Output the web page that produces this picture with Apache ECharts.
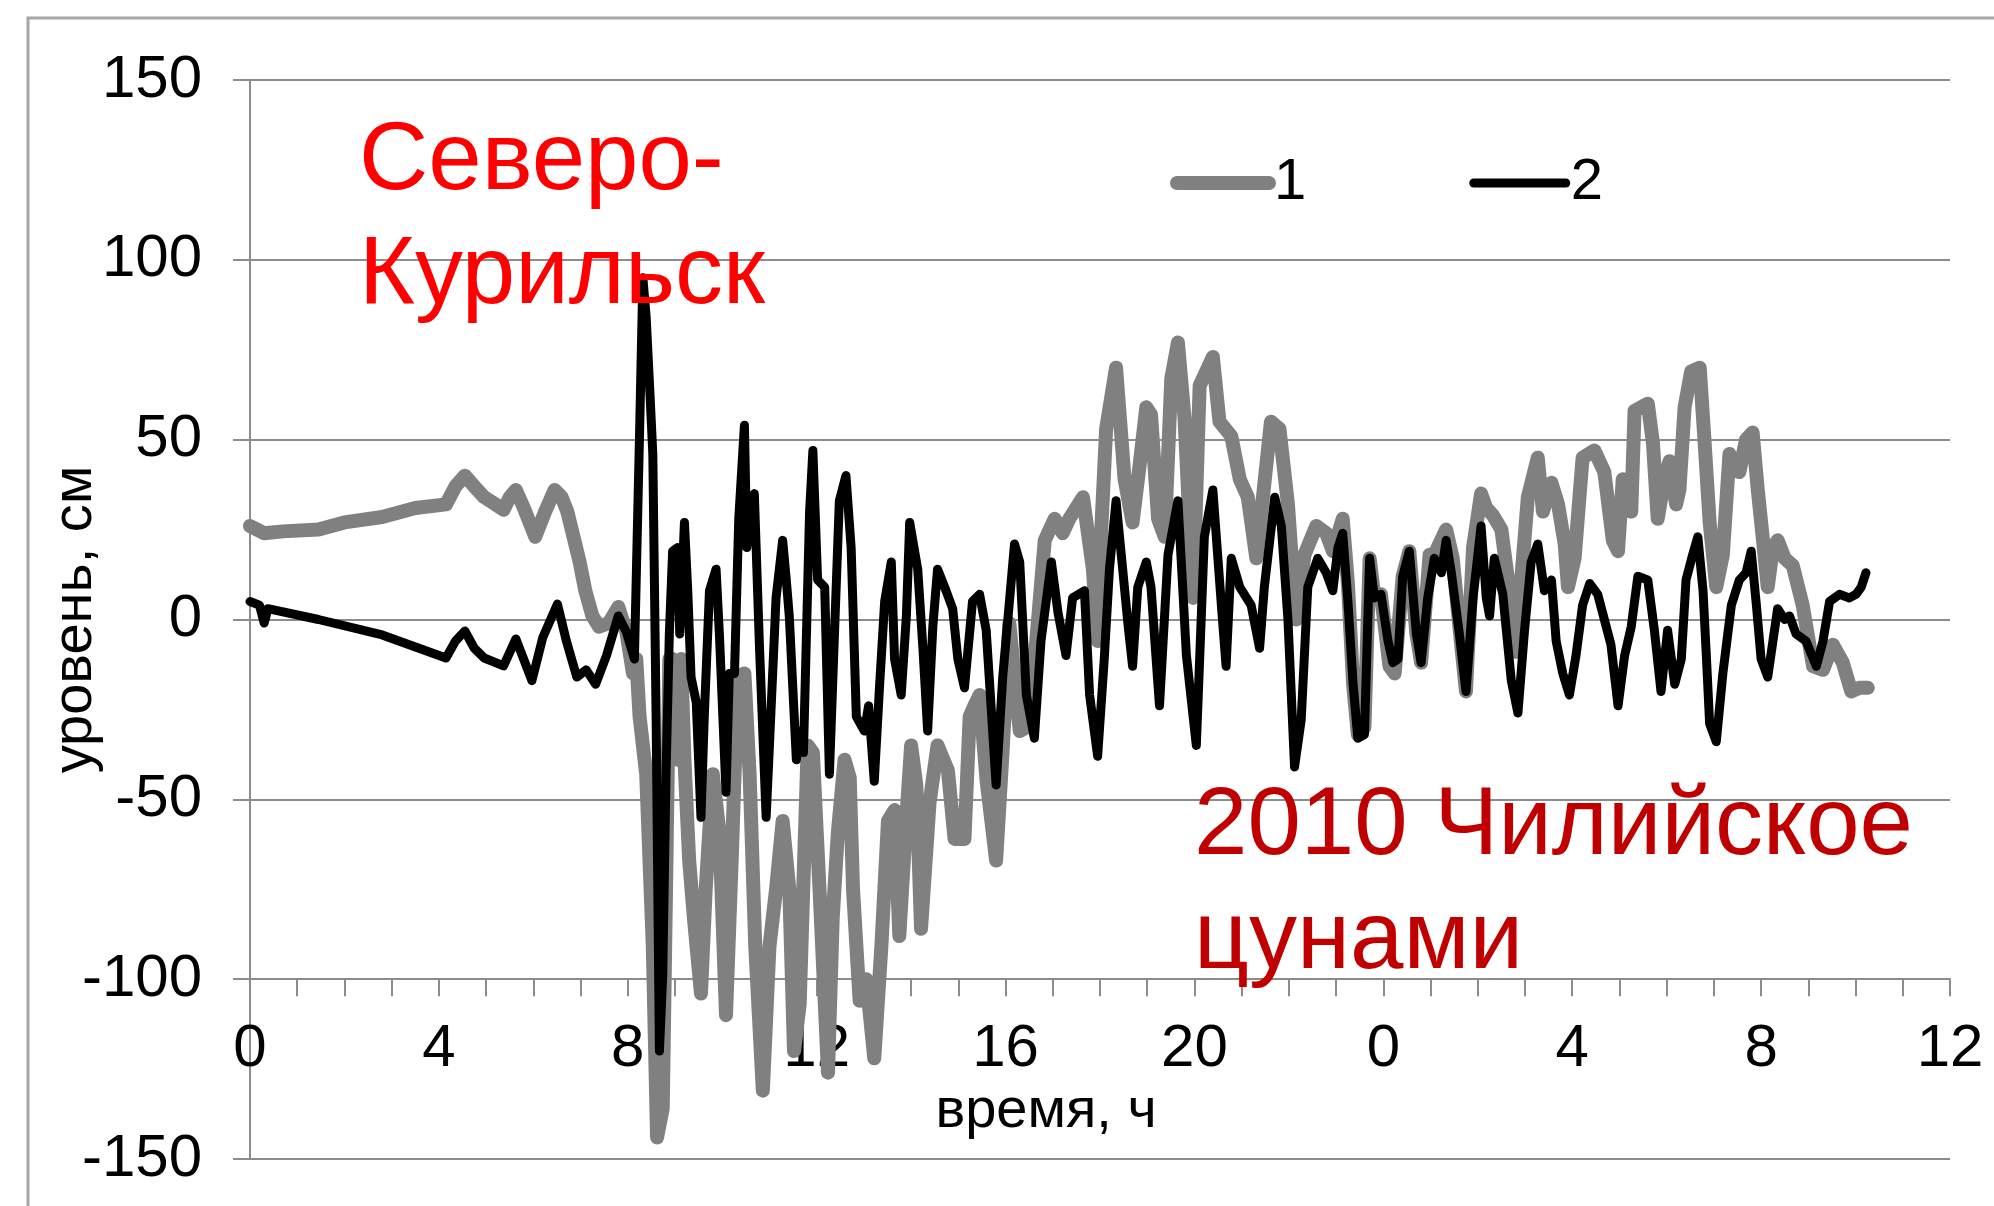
<!DOCTYPE html>
<html>
<head>
<meta charset="utf-8">
<script src="https://cdn.jsdelivr.net/npm/echarts@6/dist/echarts.min.js"></script>
<style>html,body{margin:0;padding:0;background:#fff}#c{width:1994px;height:1206px}</style>
</head>
<body>
<div id="c"></div>
<script>
// ---- data ----
const seriesNames = ['1', '2'];
const xTickLabels = ['0', '4', '8', '12', '16', '20', '0', '4', '8', '12'];
const annotationTop = 'Северо-\nКурильск';
const annotationBottom = '2010 Чилийское\nцунами';
const xAxisTitle = 'время, ч';
const yAxisTitle = 'уровень, см';

// series 1 (gray): [hours, cm]
const level1 = [[0,26],[0.3,24],[0.7,24.5],[1.45,25],[2.0,27],[2.8,28.5],[3.5,31],[4.15,32],[4.35,37],[4.55,40],[4.75,37],[4.96,34],[5.2,32],[5.37,30.5],[5.5,34],[5.63,36],[5.8,31],[6.04,23],[6.25,30],[6.45,36],[6.6,34],[6.72,30],[6.98,16],[7.1,8],[7.25,1],[7.39,-2],[7.6,-1],[7.8,3.5],
[7.97,-3.5],[8.11,-15],[8.18,-11],[8.25,-27],[8.39,-43],[8.53,-91],[8.62,-144],[8.74,-136],[8.81,-75],[8.88,-11],[8.95,-11],[9.06,-39],[9.13,-11],[9.2,-39],[9.3,-67],[9.4,-83],[9.55,-104],[9.65,-75],[9.8,-43],[9.94,-59],[10.08,-110],[10.2,-67],[10.33,-16],[10.47,-15],[10.58,-43],[10.7,-91],[10.86,-131],[11.0,-91],[11.14,-75],[11.28,-56],[11.42,-75],[11.52,-120],[11.64,-107],
[11.81,-35],[11.92,-37],[12.06,-75],[12.24,-126],[12.34,-83],[12.45,-59],[12.59,-39],[12.7,-44],[12.77,-75],[12.91,-106],[13.05,-100],[13.22,-122],[13.37,-91],[13.51,-56],[13.65,-53],[13.75,-88],[13.9,-55],[14.0,-35],[14.11,-46],[14.21,-86],[14.39,-51],[14.56,-35],[14.78,-42],[14.92,-61],[15.13,-61],[15.24,-27],[15.34,-24],
[15.45,-21],[15.6,-45],[15.8,-67],[15.94,-36],[16.08,-1],[16.3,-31],[16.44,-30],[16.65,-6],[16.83,22],[17.04,28],[17.21,24],[17.35,28],[17.64,34],[17.85,14],[17.95,-6],[18.02,23],[18.13,53],[18.34,70],[18.52,39],[18.69,27],[18.84,43],[18.98,59],
[19.08,57],[19.23,28],[19.37,23],[19.51,67],[19.65,77],[19.79,56],[19.97,6],[20.11,65],[20.39,73],[20.53,55],[20.78,51],[20.96,39],[21.13,34],[21.31,17],[21.45,34],[21.62,55],[21.8,53],[21.98,32],[22.15,0],[22.33,18],[22.58,26],
[22.79,24],[22.93,19],[23.14,28],[23.25,10],[23.36,-18],[23.46,-32],[23.6,-30],[23.71,17],[23.81,6],[23.95,7],[24.13,-13],[24.24,-15],[24.41,12],[24.55,19],[24.7,-4],[24.8,-12],[24.98,18],[25.08,18],[25.33,25],[25.47,17],[25.61,-2],[25.75,-20],[25.9,20],[26.07,35],[26.18,31],[26.32,29],
[26.5,25],[26.64,11],[26.81,-9],[26.92,11],[27.06,34],[27.27,45],[27.38,30],[27.56,38],[27.7,32],[27.84,21],[27.91,9],[28.05,17],[28.22,45],[28.47,47],[28.68,41],[28.86,22],[28.97,19],[29.07,39],[29.25,30],[29.32,58],[29.6,60],[29.71,49],[29.81,28],[29.95,39],[30.06,44],
[30.2,32],[30.27,36],[30.38,59],[30.52,69],[30.7,70],[30.8,50],[30.91,27],[31.05,9],[31.19,18],[31.33,46],[31.54,41],[31.68,50],[31.82,52],[31.93,36],[32.04,22],[32.14,9],[32.25,20],[32.35,22],[32.5,17],[32.67,15],[32.88,4],[33.1,-13],[33.31,-14],[33.52,-7],[33.73,-12],[33.91,-20],[34.08,-19],[34.26,-19]];

// series 2 (black): [hours, cm]
const level2 = [[0,5],[0.2,4],[0.3,-1],[0.38,3],[1.45,0],[2.8,-4.3],[4.15,-10.7],[4.35,-6],[4.55,-3.2],[4.75,-8],[4.96,-10.7],[5.37,-12.9],[5.63,-5.4],[5.97,-17],[6.2,-5],[6.51,4.3],[6.7,-6],[6.92,-16],[7.12,-14],[7.32,-18],[7.55,-10],[7.8,1],
[7.97,-3.5],[8.14,-11],[8.25,52],[8.32,95],[8.39,84],[8.48,60],[8.53,46],[8.6,-27],[8.67,-120],[8.74,-99],[8.81,-43],[8.88,-4],[8.95,19],[9.06,20],[9.1,-4],[9.2,27],[9.27,8],[9.34,-16],[9.45,-23],[9.55,-55],[9.62,-27],[9.73,8],[9.8,11],[9.87,14],[9.94,-4],[10.08,-48],[10.15,-15],[10.26,-15],[10.35,28],[10.47,54],[10.52,20],[10.62,33],[10.68,35],[10.79,-8],[10.93,-55],[11.0,-35],[11.14,6],[11.28,22],[11.35,12],[11.42,1],[11.57,-39],[11.64,-31],
[11.72,-37],[11.85,30],[11.92,47],[12.02,11],[12.17,9],[12.27,-43],[12.38,-3],[12.48,33],[12.62,40],[12.73,20],[12.84,-27],[13.01,-31],[13.1,-24],[13.22,-45],[13.33,-19],[13.44,5],[13.58,16],[13.65,-11],[13.79,-21],[13.9,1],[13.97,27],[14.14,14],[14.25,-8],[14.35,-31],[14.46,-2],[14.56,14],[14.74,8],[14.88,3],[14.99,-11],[15.13,-19],[15.3,5],
[15.45,7],[15.59,-3],[15.8,-46],[15.94,-16],[16.19,21],[16.3,16],[16.44,-21],[16.61,-33],[16.75,-6],[16.97,16],[17.11,2],[17.28,-10],[17.42,6],[17.67,8],[17.78,-21],[17.95,-38],[18.09,-11],[18.2,14],[18.34,33],[18.48,14],[18.59,-1],[18.69,-13],[18.8,9],[18.98,16],
[19.08,9],[19.26,-24],[19.44,18],[19.65,33],[19.83,-10],[20.04,-35],[20.21,23],[20.39,36],[20.57,4],[20.67,-13],[20.78,17],[20.96,9],[21.2,4],[21.38,-8],[21.48,9],[21.7,34],[21.84,26],[21.98,0],[22.12,-41],[22.26,-28],[22.4,9],[22.61,17],
[22.79,13],[22.93,8],[23.04,20],[23.14,24],[23.25,5],[23.36,-18],[23.46,-33],[23.6,-32],[23.71,17],[23.81,6],[23.95,7],[24.1,-6],[24.2,-12],[24.31,-11],[24.41,12],[24.55,19],[24.7,-4],[24.8,-12],[24.94,6],[25.08,17],[25.23,13],[25.33,22],[25.44,13],[25.61,-4],[25.75,-20],[25.9,6],[26.07,26],[26.18,6],[26.25,1],[26.35,17],
[26.53,7],[26.71,-17],[26.85,-26],[26.99,-3],[27.13,16],[27.27,21],[27.41,8],[27.56,11],[27.66,-6],[27.8,-15],[27.94,-21],[28.08,-10],[28.22,4],[28.37,10],[28.54,7],[28.68,0],[28.82,-7],[28.97,-24],[29.11,-10],[29.25,-2],[29.39,12],[29.6,11],[29.74,-3],[29.88,-20],[30.02,-3],
[30.17,-18],[30.31,-11],[30.41,11],[30.55,18],[30.66,23],[30.77,8],[30.84,-10],[30.91,-29],[31.05,-34],[31.19,-15],[31.37,4],[31.54,11],[31.68,13],[31.79,19],[31.9,4],[32.0,-11],[32.14,-16],[32.25,-6],[32.35,3],[32.5,0],[32.6,1],[32.74,-4],[32.95,-6],[33.17,-13],[33.31,-6],[33.45,5],[33.66,7],[33.87,6],[34.01,7],[34.12,9],[34.22,13]];

// ---- chart ----
const FONT = '"Liberation Sans", Arial, sans-serif';
const GRID_GRAY = '#8c8c8c';
const GRID = {left: 250, right: 44, top: 80, bottom: 47};
const Y_MIN = -150, Y_MAX = 150, X_AXIS_AT = -100;
const gridHeight = 1206 - GRID.top - GRID.bottom;
// move the horizontal axis up from the grid bottom to the level of X_AXIS_AT
const xAxisOffset = -gridHeight * (X_AXIS_AT - Y_MIN) / (Y_MAX - Y_MIN);

const chart = echarts.init(document.getElementById('c'), null, {renderer: 'canvas'});
chart.setOption({
  animation: false,
  backgroundColor: '#ffffff',
  textStyle: {fontFamily: FONT},
  grid: Object.assign({containLabel: false, outerBoundsMode: 'none'}, GRID),
  legend: {
    left: 1165, top: 149, itemWidth: 92, itemHeight: 28, itemGap: 163,
    textStyle: {fontFamily: FONT, fontSize: 58, color: '#000'},
    data: [
      {name: seriesNames[0], lineStyle: {width: 14, cap: 'round', color: '#808080'}, itemStyle: {color: 'rgba(0,0,0,0)', borderWidth: 0, opacity: 0}},
      {name: seriesNames[1], lineStyle: {width: 9, cap: 'round', color: '#000'}, itemStyle: {color: 'rgba(0,0,0,0)', borderWidth: 0, opacity: 0}}
    ]
  },
  xAxis: {
    type: 'value', min: 0, max: 36, interval: 4, position: 'bottom', offset: xAxisOffset,
    axisLine: {show: true, onZero: false, lineStyle: {color: GRID_GRAY, width: 2}},
    axisTick: {show: true, length: 17, lineStyle: {color: GRID_GRAY, width: 2}},
    minorTick: {show: true, splitNumber: 4, length: 17, lineStyle: {color: GRID_GRAY, width: 2}},
    splitLine: {show: false},
    axisLabel: {
      margin: 40, fontSize: 60, fontFamily: FONT, color: '#000',
      showMinLabel: true, showMaxLabel: true,
      formatter: v => xTickLabels[Math.round(v / 4)]
    },
    name: xAxisTitle, nameLocation: 'middle', nameGap: 104, nameMoveOverlap: false,
    nameTextStyle: {fontSize: 56, fontFamily: FONT, color: '#000', padding: [0, 108, 0, 0]}
  },
  yAxis: {
    type: 'value', min: Y_MIN, max: Y_MAX, interval: 50,
    axisLine: {show: true, onZero: false, lineStyle: {color: GRID_GRAY, width: 2}},
    axisTick: {show: true, length: 17, lineStyle: {color: GRID_GRAY, width: 2}},
    splitLine: {show: true, lineStyle: {color: GRID_GRAY, width: 2}},
    axisLabel: {margin: 48, fontSize: 60, fontFamily: FONT, color: '#000'},
    name: yAxisTitle, nameLocation: 'middle', nameGap: 146, nameMoveOverlap: false,
    nameTextStyle: {fontSize: 56, fontFamily: FONT, color: '#000'}
  },
  series: [
    {name: seriesNames[0], type: 'line', data: level1, showSymbol: false, symbol: 'none', smooth: false,
     lineStyle: {color: '#808080', width: 14, join: 'round', cap: 'round'}, itemStyle: {color: '#808080'}, z: 2},
    {name: seriesNames[1], type: 'line', data: level2, showSymbol: false, symbol: 'none', smooth: false,
     lineStyle: {color: '#000000', width: 9, join: 'round', cap: 'round'}, itemStyle: {color: '#000'}, z: 3}
  ],
  graphic: [
    {type: 'rect', silent: true, z: -1, shape: {x: 28, y: 18, width: 2100, height: 1400},
     style: {fill: 'none', stroke: '#a6a6a6', lineWidth: 3}},
    {type: 'text', z: 10, x: 359, y: 106,
     style: {text: annotationTop, font: '96px ' + FONT, fill: '#ff0000', lineHeight: 114, verticalAlign: 'top', align: 'left'}},
    {type: 'text', z: 10, x: 1194, y: 771,
     style: {text: annotationBottom, font: '96px ' + FONT, fill: '#c00000', lineHeight: 114, verticalAlign: 'top', align: 'left'}}
  ]
});
</script>
</body>
</html>
